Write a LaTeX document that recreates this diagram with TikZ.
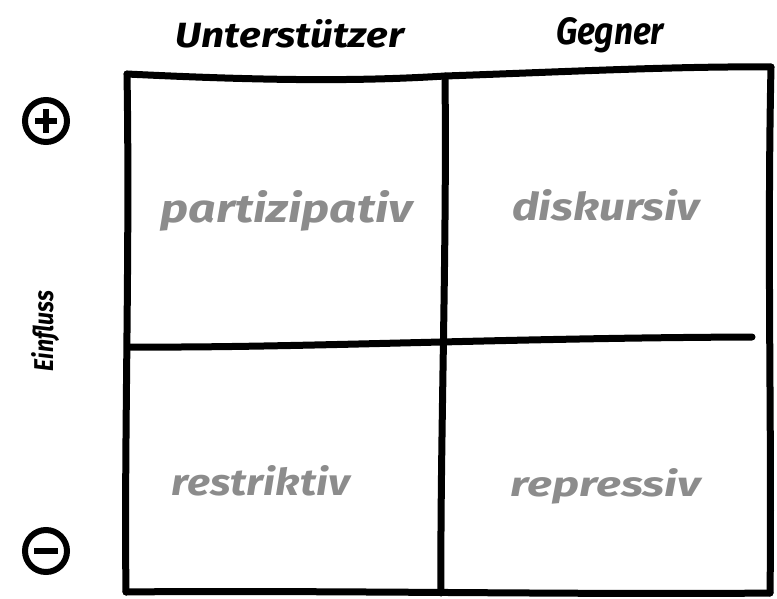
\documentclass[tikz,border=0pt]{standalone}
\usepackage{fontspec}
\setmainfont{Fira Sans}
\usepackage{graphicx}
\usetikzlibrary{calc}
\definecolor{celltext}{HTML}{8C8C8C}
\tikzset{
  gridline/.style={line width=7pt, line cap=round, line join=round, black},
  head/.style={inner sep=0pt, anchor=base, text=black},
  cell/.style={inner sep=0pt, anchor=base, text=celltext},
  sign/.style={circle, draw=black, line width=6pt, minimum size=42pt, inner sep=0pt},
  signbar/.style={line width=5.5pt, black}
}
\newcommand{\hw}[3]{\resizebox{#1pt}{#2pt}{\bfseries\itshape #3}}
\begin{document}
\begin{tikzpicture}[x=1pt,y=-1pt]
\useasboundingbox (0,0) rectangle (777,598);
% grid corners
\coordinate (tl) at (127,74);
\coordinate (tm) at (445,76);
\coordinate (tr) at (771,67);
\coordinate (ml) at (130,347);
\coordinate (mr) at (752,337);
\coordinate (bl) at (126,592);
\coordinate (bm) at (441,593);
\coordinate (br) at (770,593);
% outer frame
\draw[gridline] (tl) .. controls (250,80) and (350,82) .. (tm) .. controls (560,72) and (680,66) .. (tr);
\draw[gridline] (tr) .. controls (767,250) and (772,450) .. (br);
\draw[gridline] (bl) .. controls (300,590) and (600,595) .. (br);
\draw[gridline] (tl) .. controls (130,250) and (124,450) .. (bl);
% dividers
\draw[gridline] (tm) .. controls (447,250) and (440,450) .. (bm);
\draw[gridline] (ml) .. controls (300,348) and (500,338) .. (mr);
% headers
\node[head] (hU) at (290,47) {\hw{228}{28}{Unterstützer}};
\node[head] (hG) at (610,44) {\hw{108}{27}{Gegner}};
% cells
\node[cell] (c1) at (287,222) {\hw{252}{32}{partizipativ}};
\node[cell] (c2) at (606,220) {\hw{188}{31}{diskursiv}};
\node[cell] (c3) at (261,495) {\hw{178}{30}{restriktiv}};
\node[cell] (c4) at (606,496) {\hw{190}{28}{repressiv}};
% axis
\node[sign] (plus) at (46,121) {};
\draw[signbar] ($(plus)+(-11,0)$) -- ($(plus)+(11,0)$);
\draw[signbar] ($(plus)+(0,-12)$) -- ($(plus)+(0,12)$);
\node[sign] (minus) at (46,551) {};
\draw[signbar] ($(minus)+(-12,0)$) -- ($(minus)+(12,0)$);
\node[head, anchor=center, rotate=90] (ein) at (46,331) {\hw{80}{22}{Einfluss}};
\end{tikzpicture}
\end{document}
